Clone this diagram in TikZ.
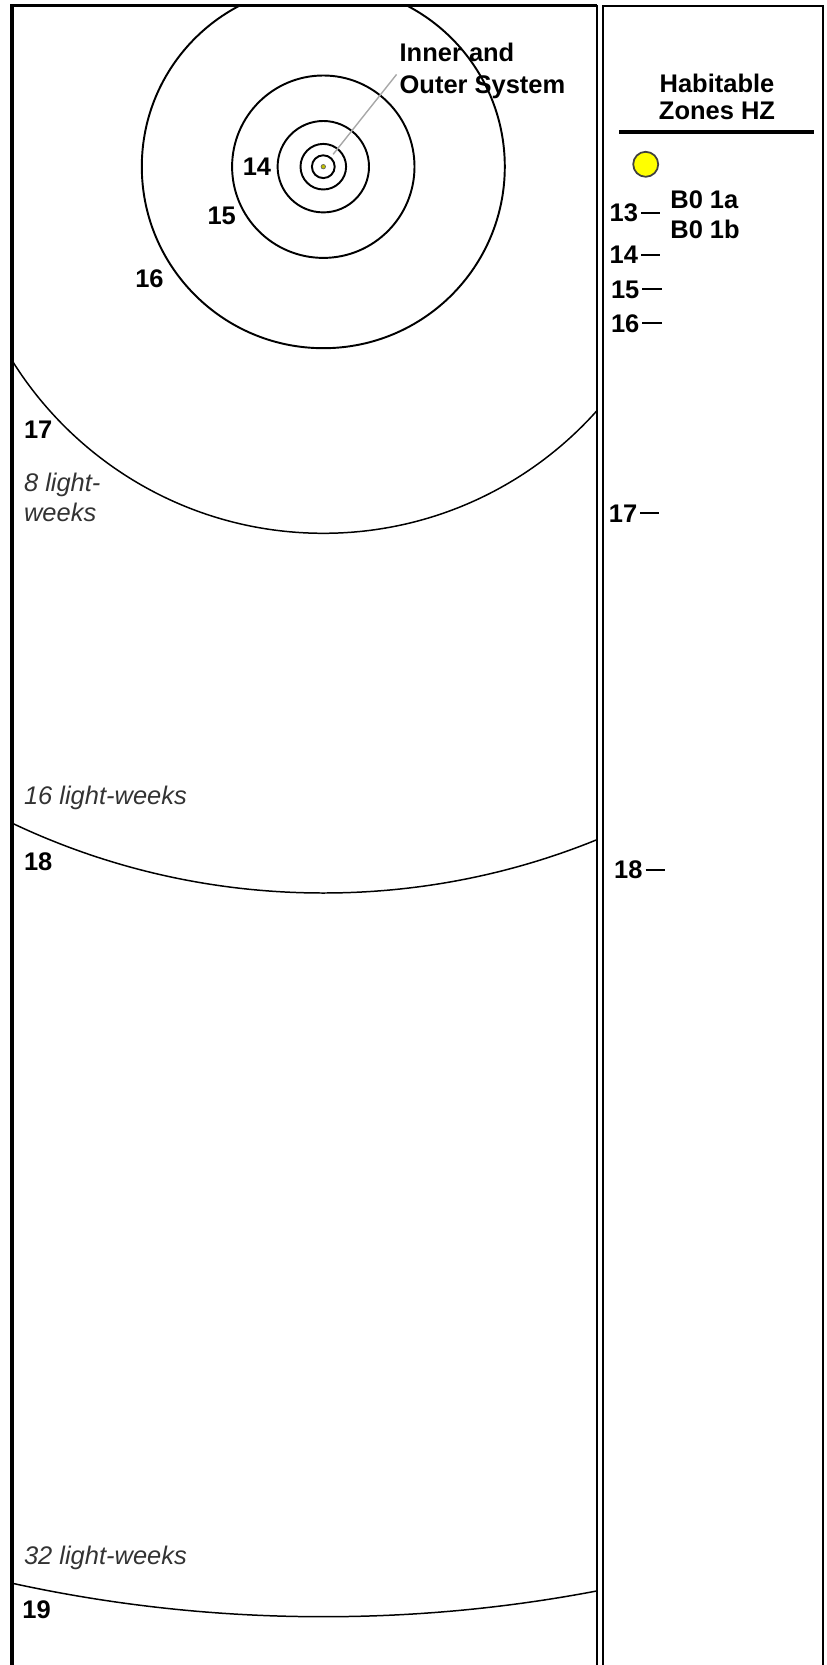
\documentclass[tikz,border=0pt]{standalone}
\usepackage{fontspec}
\setmainfont{Liberation Sans}
\usetikzlibrary{positioning}
\definecolor{Sun}{HTML}{FFFF00}
\definecolor{Pointer}{HTML}{A8A8A8}
\definecolor{Note}{HTML}{333333}
\newcommand{\hzdash}{\kern0.12em\rule[0.32em]{0.75em}{0.08em}}

\begin{document}
\begin{tikzpicture}[x=0.02cm,y=-0.02cm,
    orbit/.style={line width=1.1pt},
    farorbit/.style={line width=0.85pt},
    panel/.style={line width=1.2pt},
    num/.style={inner sep=0pt,font=\fontsize{14.5}{17}\selectfont\bfseries},
    dist/.style={inner sep=0pt,anchor=west,align=left,text=Note,
      font=\fontsize{14.5}{17}\selectfont\itshape},
    head/.style={inner sep=0pt,align=center,font=\fontsize{14.5}{15.4}\selectfont\bfseries},
    coredot/.style={circle,fill=Sun!75!black,draw=black!60,line width=0.4pt,
      inner sep=0pt,minimum size=0.09cm},
    pointer/.style={Pointer,line width=0.8pt}
  ]
  \useasboundingbox (0,0) rectangle (826,1665);
  % panels
  \draw[line width=2.2pt] (12,1665) -- (12,5.5) -- (597,5.5);
  \draw[panel] (597,5.5) -- (597,1665);
  \draw[panel] (603,1665) |- (823,6) -- (823,1665);
  % orbits
  \coordinate (c) at (323.3,166.7);
  \begin{scope}
    \clip (12,5.5) rectangle (597,1665);
    \foreach \rad in {11.4,22.8,45.7,91.2,181.5}
      \draw[orbit] (c) circle[radius=\rad];
    \foreach \rad in {366.6,726.3,1450}
      \draw[farorbit] (c) circle[radius=\rad];
  \end{scope}
  \node[coredot] (core) at (c) {};
  \node[head,align=left,anchor=west,font=\fontsize{14.5}{17.9}\selectfont\bfseries]
    (sys) at (399.3,71) {Inner and\\Outer System};
  \draw[pointer,shorten <=7.5pt,shorten >=2.5pt] (core) -- (sys.west);
  \node[num] (o14) at (257,166.7) {14};
  \node[num] (o15) at (221.7,216.3) {15};
  \node[num] (o16) at (149.5,279) {16};
  \node[num,anchor=west] (o17) at (23.7,430) {17};
  \node[dist] (w8) at (23.7,497) {8 light-\\weeks};
  \node[dist] (w16) at (23.7,797.5) {16 light-weeks};
  \node[num,anchor=west] (o18) at (23.7,861.7) {18};
  \node[dist] (w32) at (23.7,1557.5) {32 light-weeks};
  \node[num,anchor=west] (o19) at (22,1610) {19};
  % habitable zones
  \node[head] (hz) at (717,97) {Habitable\\Zones HZ};
  \draw[line width=2.6pt] (619,132) -- (814,132);
  \node[circle,draw=black!75,fill=Sun,line width=1pt,minimum size=0.5cm,inner sep=0pt]
    (sun) at (645.7,164.3) {};
  \node[num,anchor=west,align=left,font=\fontsize{14.5}{17}\selectfont\bfseries]
    (b0) at (670,215) {B0 1a\\B0 1b};
  \node[num,anchor=west] (h13) at (609.3,213) {13\hzdash};
  \node[num,anchor=west] (h14) at (609.3,255) {14\hzdash};
  \node[num,anchor=west] (h15) at (610.7,290) {15\hzdash};
  \node[num,anchor=west] (h16) at (610.7,323.3) {16\hzdash};
  \node[num,anchor=west] (h17) at (608.5,513.3) {17\hzdash};
  \node[num,anchor=west] (h18) at (613.8,870) {18\hzdash};
\end{tikzpicture}
\end{document}
